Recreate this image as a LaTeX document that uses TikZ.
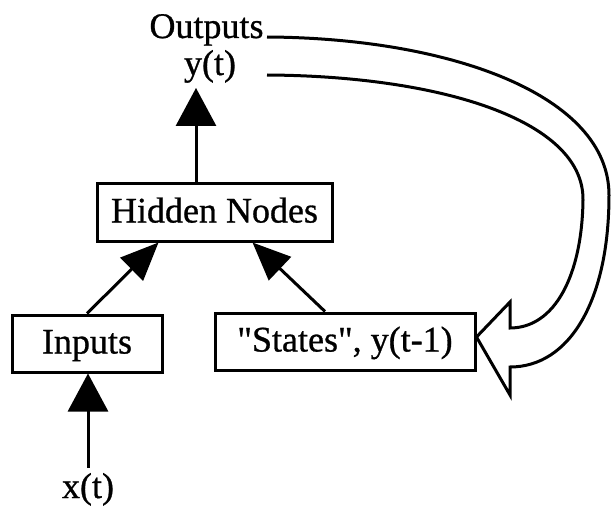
\documentclass[tikz,border=0pt]{standalone}
\usepackage{fontspec}
\setmainfont{Liberation Serif}[Ligatures=TeXOff,FakeBold=0.8]
\usetikzlibrary{arrows.meta}
\begin{document}
\begin{tikzpicture}[x=1pt,y=-1pt,
  every node/.style={font=\fontsize{36}{40}\selectfont},
  box/.style={draw,line width=3pt,minimum height=57pt,inner sep=0pt,
    text height=24pt,text depth=4pt},
  lbl/.style={inner sep=5pt},
  arr/.style={line width=3pt,-{Triangle[length=38pt,width=40pt]}},
  darr/.style={line width=3pt,-{Triangle[length=38pt,width=32pt]}},
  hollow/.style={line width=3pt,line join=miter}]
\useasboundingbox (0,0) rectangle (611,508);

% boxes
\node[box,minimum width=235pt] (hidden) at (214.5,212.5) {Hidden Nodes};
\node[box,minimum width=150pt] (inputs) at (87,343.5) {Inputs};
\node[box,minimum width=260pt] (states) at (345,341.5) {"States", y(t-1)};

% labels
\node[lbl,anchor=base] (outputs) at (206.5,38) {Outputs};
\node[lbl,anchor=base] (yt) at (210,75) {y(t)};
\node[lbl,anchor=base] (xt) at (88,498) {x(t)};

% connectors
\draw[arr] (xt.north) -- (inputs.south -| xt.north);
\draw[darr] (inputs.north) -- ([xshift=-56pt]hidden.south);
\draw[darr] ([xshift=-20pt]states.north) -- ([xshift=38pt]hidden.south);
\draw[arr] ([xshift=-18.5pt]hidden.north) -- ([xshift=-14pt]yt.south);

% broad feedback arrow from the outputs back to the states
\coordinate (outerstart) at (267,37);
\coordinate (innerstart) at (267,75);
\coordinate (tip) at ([yshift=4.5pt]states.east);
\draw[hollow] (outerstart)
  .. controls (450,38) and (609,95) .. (609,195)
  .. controls (609,300) and (570,367) .. (510,367)
  -- (510,395) -- (tip) -- (510,302) -- (510,328)
  .. controls (555,328) and (582,275) .. (583,200)
  .. controls (584,120) and (440,76) .. (innerstart);
\end{tikzpicture}
\end{document}
